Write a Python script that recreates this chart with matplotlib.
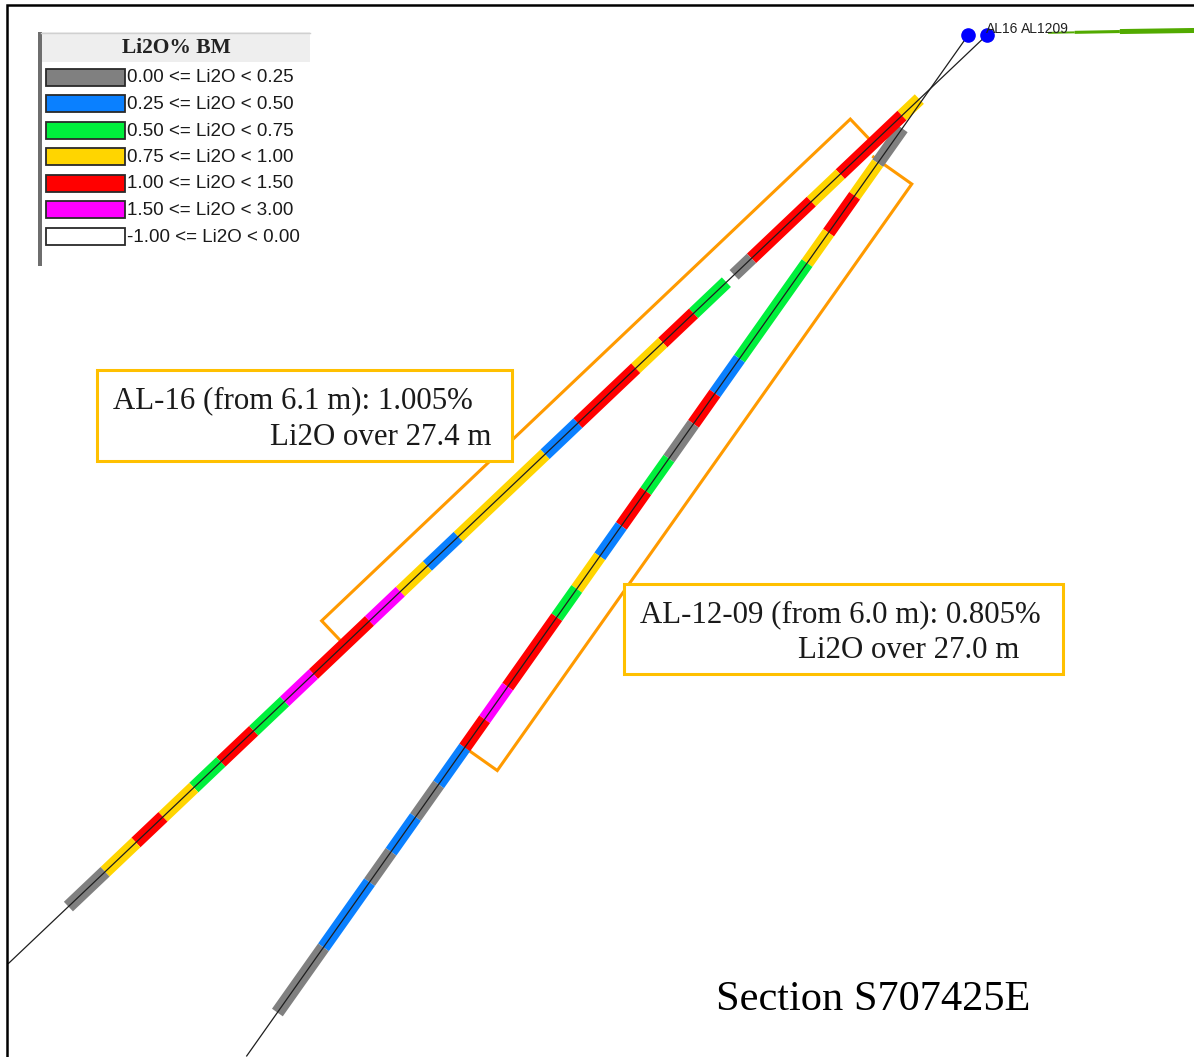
import numpy as np
import matplotlib.pyplot as plt
from matplotlib.patches import Rectangle

# Li2O grade classes (legend order)
class_lo = [0.00, 0.25, 0.50, 0.75, 1.00, 1.50, -1.00]
class_hi = [0.25, 0.50, 0.75, 1.00, 1.50, 3.00, 0.00]
class_colors = ['#808080', '#0a80ff', '#00f03c', '#ffd500', '#ff0000', '#ff00ff', '#ffffff']

# drill holes on section (metres along section / relative elevation)
hole_names = ['AL16', 'AL1209']
collar_x = [37.1, 36.4]
collar_z = [0.0, 0.0]
hole_dip = [43.5, 54.75]
hole_len = [50.7, 47.0]

# assay intervals, depth from collar (m) and grade class index
al16_from = [3.5, 4.4, 7.6, 9.1, 12.2, 13.5, 15.2, 16.8, 18.2, 21.2, 22.9, 27.4,
             29.0, 30.4, 32.0, 34.9, 36.4, 38.0, 39.7, 41.1, 42.7, 44.1, 45.7]
al16_to = [4.4, 7.6, 9.1, 12.2, 13.1, 15.2, 16.8, 18.2, 21.2, 22.9, 27.4, 29.0,
           30.4, 32.0, 34.9, 36.4, 38.0, 39.7, 41.1, 42.7, 44.1, 45.7, 47.6]
al16_cls = [3, 4, 3, 4, 0, 2, 4, 3, 4, 1, 3, 1,
            3, 5, 4, 5, 2, 4, 2, 3, 4, 3, 0]

al1209_from = [4.3, 5.9, 7.4, 9.1, 10.5, 14.9, 16.5, 17.9, 19.5, 21.0, 22.6,
               24.0, 25.5, 26.8, 30.0, 31.5, 32.8, 34.5, 36.0, 37.6, 39.0, 42.0]
al1209_to = [5.9, 7.4, 9.1, 10.5, 14.9, 16.5, 17.9, 19.5, 21.0, 22.6, 24.0,
             25.5, 26.8, 30.0, 31.5, 32.8, 34.5, 36.0, 37.6, 39.0, 42.0, 45.0]
al1209_cls = [0, 3, 4, 3, 2, 1, 4, 0, 2, 4, 1,
              3, 2, 4, 5, 4, 1, 0, 1, 0, 1, 0]

# highlighted intersections: from, to (m), offset of bracket (m)
hl_from = [5.9, 5.8]
hl_to = [33.3, 32.8]
hl_off = [-1.24, 1.5]
hl_inner = [(0.12, 0.12), (-0.26, -0.07)]
hl_text1 = ['AL-16 (from 6.1 m): 1.005%', 'AL-12-09 (from 6.0 m): 0.805%']
hl_text2 = ['Li2O over 27.4 m', 'Li2O over 27.0 m']

# topography trace
topo_x = [39.4, 40.4, 42.1, 44.9]
topo_z = [0.08, 0.10, 0.13, 0.17]
topo_w = [1.4, 2.2, 3.6]

scale = 26.6  # px per m


def hole_xy(i, depth, off=0.0):
    d = np.radians(hole_dip[i])
    x = collar_x[i] - depth * np.cos(d) + off * np.sin(d)
    z = collar_z[i] - depth * np.sin(d) - off * np.cos(d)
    return x, z


fig = plt.figure(figsize=(11.94, 10.57), dpi=100)
ax = fig.add_axes([0, 0, 1, 1])
ax.set_xlim(0, 1194 / scale)
ax.set_ylim(-(1057 - 35) / scale, 35 / scale)
ax.axis('off')

intervals = [(al16_from, al16_to, al16_cls), (al1209_from, al1209_to, al1209_cls)]
for i in [1, 0]:
    fr, to, cl = intervals[i]
    for f, t, c in zip(fr, to, cl):
        x0, z0 = hole_xy(i, f)
        x1, z1 = hole_xy(i, t)
        ax.plot([x0, x1], [z0, z1], color=class_colors[c], lw=9.5,
                solid_capstyle='butt', zorder=2)
    xe, ze = hole_xy(i, hole_len[i])
    ax.plot([collar_x[i], xe], [collar_z[i], ze], color='#1e1e1e', lw=0.9, zorder=3)

ax.plot(collar_x, collar_z, 'o', color='#0000ff', ms=9.5, zorder=4)
for k in range(len(topo_w)):
    ax.plot(topo_x[k:k + 2], topo_z[k:k + 2], color='#52aa00', lw=topo_w[k],
            solid_capstyle='butt', zorder=1)
ax.text(collar_x[0] - 0.05, 0.07, hole_names[0], fontsize=10, family='Liberation Sans',
        color='#222222', zorder=5)
ax.text(collar_x[0] + 1.28, 0.07, hole_names[1], fontsize=10, family='Liberation Sans',
        color='#222222', zorder=5)

# intersection brackets
for i in range(2):
    pts = [hole_xy(i, hl_from[i], hl_inner[i][0]), hole_xy(i, hl_from[i], hl_off[i]),
           hole_xy(i, hl_to[i], hl_off[i]), hole_xy(i, hl_to[i], hl_inner[i][1])]
    ax.plot([p[0] for p in pts], [p[1] for p in pts], color='#ff9a00', lw=2.2,
            solid_joinstyle='miter', zorder=1.5)

# overlay in pixel space for legend, labels and frame
ov = fig.add_axes([0, 0, 1, 1], zorder=3)
ov.set_xlim(0, 1194)
ov.set_ylim(1057, 0)
ov.axis('off')
ov.patch.set_alpha(0)

ov.plot([7, 7, 1194], [1057, 5, 5], color='black', lw=1.8, solid_joinstyle='miter')

# legend
ov.add_patch(Rectangle((41, 32), 269, 30, facecolor='#eeeeee', edgecolor='none'))
ov.plot([41, 310], [32.5, 32.5], color='#d0d0d0', lw=1)
ov.add_patch(Rectangle((38, 32), 4, 234, facecolor='#6e6e6e', edgecolor='none'))
ov.text(176, 53, 'Li2O% BM', fontsize=15.5, fontweight='bold', family='Liberation Serif',
        ha='center', va='baseline', color='#222222')
for k in range(len(class_lo)):
    cy = 77 + 26.5 * k
    ov.add_patch(Rectangle((46, cy - 8.5), 79, 17, facecolor=class_colors[k],
                           edgecolor='#2a2a2a', lw=1.3))
    ov.text(127, cy + 1, f'{class_lo[k]:.2f} <= Li2O < {class_hi[k]:.2f}', fontsize=13.5,
            family='Liberation Sans', va='center', ha='left', color='#1a1a1a')

# annotation boxes
box_xy = [(97, 370, 415, 91), (624, 584, 439, 90)]
line1_xy = [(113, 408), (640, 622)]
line2_xy = [(491, 445), (1019, 658)]
for i in range(2):
    bx, by, bw, bh = box_xy[i]
    ov.add_patch(Rectangle((bx, by), bw, bh, facecolor='white', edgecolor='#ffc000', lw=2.2))
    ov.text(*line1_xy[i], hl_text1[i], fontsize=22.2, family='Liberation Serif',
            ha='left', va='baseline', color='#1a1a1a')
    ov.text(*line2_xy[i], hl_text2[i], fontsize=22.2, family='Liberation Serif',
            ha='right', va='baseline', color='#1a1a1a')

ov.text(716, 1010, 'Section S707425E', fontsize=30.5, family='Liberation Serif',
        ha='left', va='baseline', color='black')

fig.savefig('out.png', dpi=100)
